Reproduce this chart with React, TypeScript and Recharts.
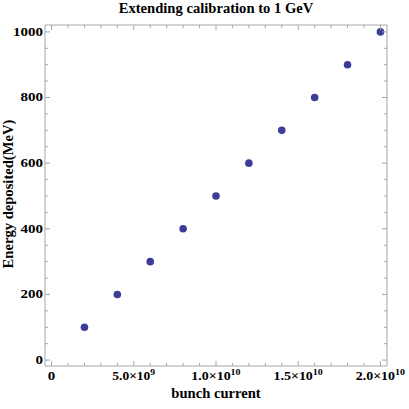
import React from "react";
import { ScatterChart, Scatter, XAxis, YAxis } from "recharts";

const bunchCurrent = [2e9, 4e9, 6e9, 8e9, 1e10, 1.2e10, 1.4e10, 1.6e10, 1.8e10, 2e10];
const energyMeV = [100, 200, 300, 400, 500, 600, 700, 800, 900, 1000];

const xMajorTicks = [0, 5e9, 1e10, 1.5e10, 2e10];
const xMinorTicks = Array.from({ length: 21 }, (_, i) => i * 1e9);
const yMajorTicks = [0, 200, 400, 600, 800, 1000];
const yMinorTicks = Array.from({ length: 21 }, (_, i) => i * 50);

const data = bunchCurrent.map((x, i) => ({ x, y: energyMeV[i] }));

const FRAME = "#a6a6a6";
const FONT = "Liberation Serif, DejaVu Serif, serif";
const POINT = "#3d3d99";

// Mathematica-style labels are wide and squat: stretch glyphs to measured widths
function xLabel(v: number) {
  if (v === 0) return { mant: "0", exp: "", len: 7.5 };
  const exp = Math.floor(Math.log10(v));
  const mant = (v / Math.pow(10, exp)).toFixed(1);
  const len = 7.8 * 3 + 3.9 + 9 + 6.5 * String(exp).length;
  return { mant: `${mant}×10`, exp: String(exp), len };
}

function BottomTick(props: any) {
  const { x, y, payload } = props;
  const major = xMajorTicks.includes(payload.value);
  const lab = xLabel(payload.value);
  return (
    <g>
      <line x1={x} x2={x} y1={y} y2={y - (major ? 5 : 3)} stroke={FRAME} />
      {major && (
        <text
          x={x}
          y={y + 14}
          textAnchor="middle"
          textLength={lab.len}
          lengthAdjust="spacingAndGlyphs"
          style={{ fontFamily: FONT, fontWeight: "bold", fontSize: 12.5 }}
          fill="#000"
        >
          <tspan>{lab.mant}</tspan>
          {lab.exp && (
            <tspan dy={-5} style={{ fontSize: 9 }}>
              {lab.exp}
            </tspan>
          )}
        </text>
      )}
    </g>
  );
}

function TopTick(props: any) {
  const { x, y, payload } = props;
  const major = xMajorTicks.includes(payload.value);
  return <line x1={x} x2={x} y1={y} y2={y + (major ? 5 : 3)} stroke={FRAME} />;
}

function LeftTick(props: any) {
  const { x, y, payload } = props;
  const major = yMajorTicks.includes(payload.value);
  const s = String(payload.value);
  return (
    <g>
      <line x1={x} x2={x + (major ? 5 : 3)} y1={y} y2={y} stroke={FRAME} />
      {major && (
        <text
          x={x - 2}
          y={y + 3.8}
          textAnchor="end"
          textLength={7.5 * s.length}
          lengthAdjust="spacingAndGlyphs"
          style={{ fontFamily: FONT, fontWeight: "bold", fontSize: 12.5 }}
          fill="#000"
        >
          {s}
        </text>
      )}
    </g>
  );
}

function RightTick(props: any) {
  const { x, y, payload } = props;
  const major = yMajorTicks.includes(payload.value);
  return <line x1={x} x2={x - (major ? 5 : 3)} y1={y} y2={y} stroke={FRAME} />;
}

export default function App() {
  return (
    <div style={{ position: "absolute", left: 0, top: 0, width: 409, height: 409, background: "#fff" }}>
      <ScatterChart width={409} height={409} margin={{ top: 24, right: 21, bottom: 42, left: 44 }}>
        <XAxis
          type="number"
          dataKey="x"
          xAxisId="b"
          domain={[-4e8, 2.04e10]}
          ticks={xMinorTicks}
          interval={0}
          height={1}
          tickSize={0}
          tickMargin={0}
          tickLine={false}
          axisLine={{ stroke: FRAME }}
          tick={<BottomTick />}
          allowDataOverflow
        />
        <XAxis
          type="number"
          dataKey="x"
          xAxisId="t"
          orientation="top"
          domain={[-4e8, 2.04e10]}
          ticks={xMinorTicks}
          interval={0}
          height={1}
          tickSize={0}
          tickMargin={0}
          tickLine={false}
          axisLine={{ stroke: FRAME }}
          tick={<TopTick />}
          allowDataOverflow
        />
        <YAxis
          type="number"
          dataKey="y"
          yAxisId="l"
          domain={[-18, 1021]}
          ticks={yMinorTicks}
          interval={0}
          width={1}
          tickSize={0}
          tickMargin={0}
          tickLine={false}
          axisLine={{ stroke: FRAME }}
          tick={<LeftTick />}
          allowDataOverflow
        />
        <YAxis
          type="number"
          dataKey="y"
          yAxisId="r"
          orientation="right"
          domain={[-18, 1021]}
          ticks={yMinorTicks}
          interval={0}
          width={1}
          tickSize={0}
          tickMargin={0}
          tickLine={false}
          axisLine={{ stroke: FRAME }}
          tick={<RightTick />}
          allowDataOverflow
        />
        <Scatter
          data={data}
          xAxisId="b"
          yAxisId="l"
          fill={POINT}
          isAnimationActive={false}
          shape={(p: any) => <circle cx={p.cx} cy={p.cy} r={3.8} fill={POINT} />}
        />
      </ScatterChart>
      <div
        style={{
          position: "absolute", left: 45, width: 342, top: 0, textAlign: "center",
          fontFamily: FONT, fontWeight: "bold", fontSize: 14.6, whiteSpace: "nowrap",
        }}
      >
        Extending calibration to 1 GeV
      </div>
      <div
        style={{
          position: "absolute", left: 45, width: 342, top: 385, textAlign: "center",
          fontFamily: FONT, fontWeight: "bold", fontSize: 14.6, whiteSpace: "nowrap",
        }}
      >
        bunch current
      </div>
      <div
        style={{
          position: "absolute", left: 8, top: 194, width: 0, height: 0,
        }}
      >
        <div
          style={{
            position: "absolute", left: -150, width: 300, top: -9, textAlign: "center",
            transform: "rotate(-90deg)", fontFamily: FONT, fontWeight: "bold", fontSize: 14.6,
            whiteSpace: "nowrap", lineHeight: "18px",
          }}
        >
          Energy deposited(MeV)
        </div>
      </div>
    </div>
  );
}
